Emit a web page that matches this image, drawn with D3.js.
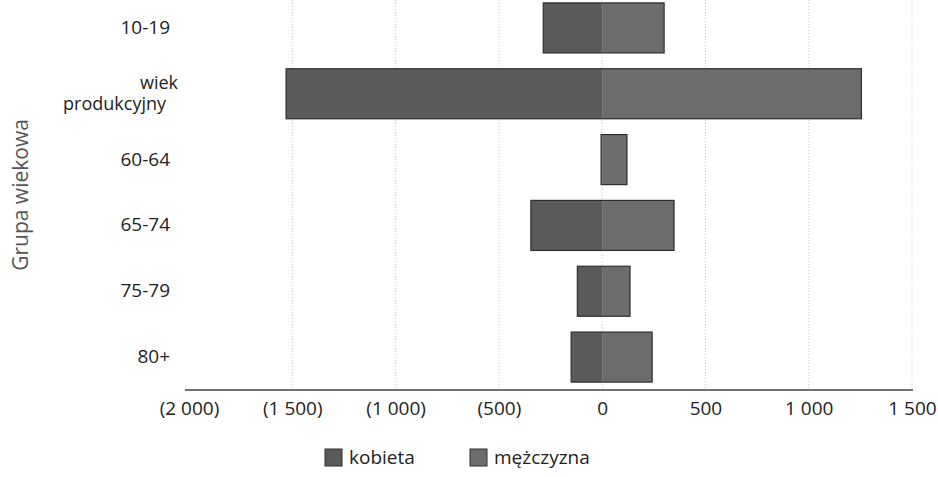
<!DOCTYPE html>
<html>
<head>
<meta charset="utf-8">
<script src="https://cdn.jsdelivr.net/npm/d3@7"></script>
<style>
  body { margin: 0; background: #fff; }
  text { font-family: "Open Sans", sans-serif; }
</style>
</head>
<body>
<script>
var width = 938,
    height = 477;

// age groups, top to bottom
var categories = ["10-19", "wiek produkcyjny", "60-64", "65-74", "75-79", "80+"];
// women are drawn to the left (negative), men to the right
var kobieta = [-285, -1530, -5, -345, -120, -150];
var mezczyzna = [300, 1255, 120, 348, 135, 242];
var xTicks = [-2000, -1500, -1000, -500, 0, 500, 1000, 1500];
var seriesNames = ["kobieta", "mężczyzna"];
var seriesColors = ["#5a5a5a", "#6c6c6c"];

var svg = d3.select("body")
  .append("svg")
  .attr("width", width)
  .attr("height", height);

var x = d3.scaleLinear()
  .domain([-2000, 1500])
  .range([189, 912]);

var y = d3.scaleBand()
  .domain(categories)
  .range([-5, 390])
  .paddingInner(0.24)
  .paddingOuter(0.12);

var loc = d3.formatLocale({decimal: ",", thousands: " ", grouping: [3], currency: ["", ""]});
var fmt = loc.format(",");
function tickFormat(v) {
  return v < 0 ? "(" + fmt(-v) + ")" : fmt(v);
}

// dotted gridlines
svg.append("g")
  .selectAll("line")
  .data(xTicks.filter(function(d) { return d > -2000; }))
  .enter().append("line")
    .attr("x1", function(d) { return x(d); })
    .attr("x2", function(d) { return x(d); })
    .attr("y1", 0)
    .attr("y2", 390)
    .attr("stroke", "#c8c8c8")
    .attr("stroke-width", 1)
    .attr("stroke-dasharray", "1,2");

var rows = categories.map(function(c, i) {
  return {cat: c, k: kobieta[i], m: mezczyzna[i]};
});

// women bars
svg.append("g")
  .selectAll("rect")
  .data(rows)
  .enter().append("rect")
    .attr("x", function(d) { return x(d.k); })
    .attr("y", function(d) { return y(d.cat); })
    .attr("width", function(d) { return x(0) - x(d.k); })
    .attr("height", y.bandwidth())
    .attr("fill", seriesColors[0]);

// men bars
svg.append("g")
  .selectAll("rect")
  .data(rows)
  .enter().append("rect")
    .attr("x", x(0))
    .attr("y", function(d) { return y(d.cat); })
    .attr("width", function(d) { return x(d.m) - x(0); })
    .attr("height", y.bandwidth())
    .attr("fill", seriesColors[1]);

// dark outline round each pair, no line at zero
svg.append("g")
  .selectAll("rect")
  .data(rows)
  .enter().append("rect")
    .attr("x", function(d) { return x(d.k); })
    .attr("y", function(d) { return y(d.cat); })
    .attr("width", function(d) { return x(d.m) - x(d.k); })
    .attr("height", y.bandwidth())
    .attr("fill", "none")
    .attr("stroke", "#2e2e2e")
    .attr("stroke-width", 1.2);

// x axis
var xAxis = svg.append("g")
  .attr("transform", "translate(0,390)")
  .call(d3.axisBottom(x).tickValues(xTicks).tickFormat(tickFormat).tickSize(0).tickPadding(12));
xAxis.select(".domain")
  .attr("d", "M185,0H913")
  .attr("stroke", "#444")
  .attr("stroke-width", 1.5);
xAxis.selectAll("text")
  .attr("font-size", 19)
  .attr("font-family", "Open Sans, sans-serif")
  .attr("fill", "#222");

// category labels (the long one is wrapped on two lines)
var labelG = svg.append("g");
categories.forEach(function(d) {
  var words = d.split(" ");
  var mid = y(d) + y.bandwidth() / 2;
  if (words.length === 1) {
    labelG.append("text")
      .attr("text-anchor", "end")
      .attr("font-size", 19)
      .attr("fill", "#222")
      .attr("x", 170)
      .attr("y", mid + 6)
      .text(d);
  } else {
    labelG.append("text")
      .attr("text-anchor", "end")
      .attr("font-size", 18)
      .attr("fill", "#222")
      .attr("x", 178)
      .attr("y", mid - 5)
      .text(words[0]);
    labelG.append("text")
      .attr("text-anchor", "end")
      .attr("font-size", 18)
      .attr("fill", "#222")
      .attr("x", 166)
      .attr("y", mid + 16)
      .text(words[1]);
  }
});

// y axis title
svg.append("text")
  .attr("transform", "translate(28,195) rotate(-90)")
  .attr("text-anchor", "middle")
  .attr("font-size", 21)
  .attr("fill", "#555")
  .text("Grupa wiekowa");

// legend
var legend = svg.append("g")
  .selectAll("g")
  .data(seriesNames)
  .enter().append("g")
    .attr("transform", function(d, i) { return "translate(" + (325 + i * 145) + ",449)"; });

legend.append("rect")
  .attr("width", 17)
  .attr("height", 17)
  .attr("fill", function(d, i) { return seriesColors[i]; })
  .attr("stroke", "#2e2e2e");

legend.append("text")
  .attr("x", 24)
  .attr("y", 15)
  .attr("font-size", 19)
  .attr("fill", "#222")
  .text(function(d) { return d; });
</script>
</body>
</html>
